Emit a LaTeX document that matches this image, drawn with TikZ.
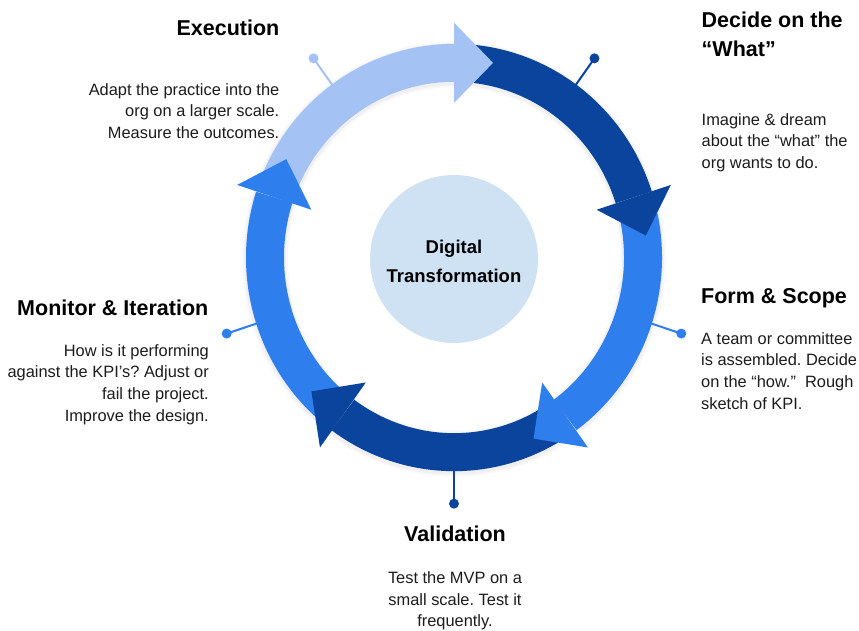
\documentclass[tikz,border=0pt]{standalone}
\usepackage{fontspec}
\setmainfont{Liberation Sans}
\frenchspacing
\definecolor{lightb}{HTML}{A4C2F4}
\definecolor{darkb}{HTML}{0A449C}
\definecolor{medb}{HTML}{2F7EEE}
\definecolor{centerb}{HTML}{CFE2F3}
\definecolor{bodytext}{HTML}{1C1C1C}
\begin{document}
\begin{tikzpicture}[x=1pt,y=1pt,
  title/.style={font=\bfseries\fontsize{21.5}{29.3}\selectfont, inner sep=0pt, text=black},
  body/.style={font=\fontsize{16.4}{21.6}\selectfont, inner sep=0pt, text=bodytext},
  pinline/.style={line width=2pt},
  pindot/.style={circle, inner sep=0pt, minimum size=10pt},
  ringbody/.style={line width=38pt},
]
\fill[white] (0,0) rectangle (859,630);
\useasboundingbox (0,0) rectangle (859,630);
\coordinate (C) at (454,372.5);

% central circle
\node[circle, fill=centerb, minimum size=168pt, inner sep=0pt] (core) at (454,371) {};
\node[font=\bfseries\fontsize{18.5}{28.4}\selectfont, align=center, inner sep=0pt, anchor=north] (coretext) at (454,389.9) {Digital\\Transformation};

\begin{scope}[shift={(C)}, yscale=1.03]
  % soft shadow
  \draw[line width=46pt, black, opacity=0.025] (0,-1.5) circle[radius=189];
  \draw[line width=42pt, black, opacity=0.035] (0,-1.5) circle[radius=189];
  % arc bodies
  \foreach \h/\col in {90/lightb, 18/darkb, -54/medb, -126/darkb, -198/medb} {
    \draw[ringbody, \col] (\h+66:189) arc[start angle=\h+66, end angle=\h, radius=189];
  }
  % arrow heads
  \foreach \h/\col in {90/lightb, 18/darkb, -54/medb, -126/darkb, -198/medb} {
    \fill[\col] (\h:228) -- (\h:150) -- (\h-11.66:192.98) -- cycle;
  }
  % pin anchor points
  \foreach \a/\n in {126/ex, 54/de, -18/fo, -90/va, 198/mo} {
    \coordinate (pin-\n-a) at (\a:207);
    \coordinate (pin-\n-b) at (\a:239);
  }
\end{scope}

% pins
\node[pindot, fill=lightb] (dot-ex) at (pin-ex-b) {};
\node[pindot, fill=darkb] (dot-de) at (pin-de-b) {};
\node[pindot, fill=medb] (dot-fo) at (pin-fo-b) {};
\node[pindot, fill=darkb] (dot-va) at (pin-va-b) {};
\node[pindot, fill=medb] (dot-mo) at (pin-mo-b) {};
\draw[pinline, lightb] (pin-ex-a) -- (dot-ex.center);
\draw[pinline, darkb] (pin-de-a) -- (dot-de.center);
\draw[pinline, medb] (pin-fo-a) -- (dot-fo.center);
\draw[pinline, darkb] (pin-va-a) -- (dot-va.center);
\draw[pinline, medb] (pin-mo-a) -- (dot-mo.center);

% texts
\node[title, anchor=base east] (t-ex) at (279.5,594) {Execution};
\node[body, align=right, anchor=north east] (b-ex) at (279.5,546.9) {Adapt the practice into the\\org on a larger scale.\\Measure the outcomes.};

\node[title, align=left, anchor=north west] (t-de) at (701.5,618.3) {Decide on the\\“What”};
\node[body, align=left, anchor=north west] (b-de) at (701.5,516.8) {Imagine \& dream\\about the “what” the\\org wants to do.};

\node[title, anchor=base east] (t-mo) at (208.5,315) {Monitor \& Iteration};
\node[body, align=right, anchor=north east] (b-mo) at (209,285.8) {How is it performing\\against the KPI’s? Adjust or\\fail the project.\\Improve the design.};

\node[title, anchor=base west] (t-fo) at (701,326.7) {Form \& Scope};
\node[body, align=left, anchor=north west] (b-fo) at (701,297.8) {A team or committee\\is assembled. Decide\\on the “how.”\ \ Rough\\sketch of KPI.};

\node[title, anchor=base] (t-va) at (455,88.3) {Validation};
\node[body, align=center, anchor=north] (b-va) at (455,58.5) {Test the MVP on a\\small scale. Test it\\frequently.};
\end{tikzpicture}
\end{document}
